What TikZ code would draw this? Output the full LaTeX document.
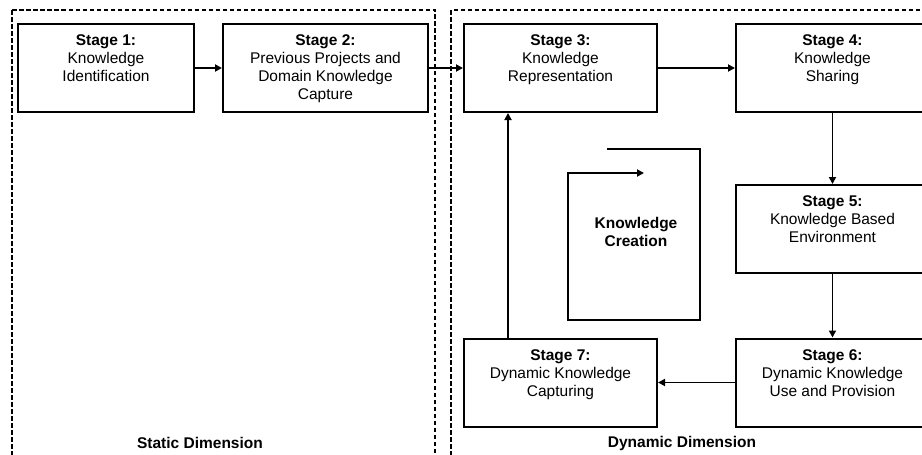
\documentclass[tikz,border=0pt]{standalone}
\usepackage{fontspec}
\setmainfont{Liberation Sans}
\usetikzlibrary{arrows.meta}

\tikzset{
  stagebox/.style={draw, line width=2pt, inner sep=0pt, minimum height=88pt},
  stagetext/.style={anchor=north, align=center, inner sep=0pt, yshift=-11.5pt},
  flow/.style={line width=1.8pt, -{Triangle[length=7pt,width=7pt]}},
  dimbox/.style={line width=1.4pt, dash pattern=on 4.5pt off 2.5pt},
}

\begin{document}
\begin{tikzpicture}[x=1pt, y=-1pt, font=\fontsize{15.5}{18}\selectfont]
        \clip (0,0) rectangle (922,455);

        % the two dimensions
        \draw[dimbox] (12,10) rectangle (435,475);
        \draw[dimbox] (451,10) rectangle (945,475);

        \node (static) at (200,443) {\textbf{Static Dimension}};
        \node (dynamic) at (682,443) {\textbf{Dynamic Dimension}};

        % stages
        \node[stagebox, minimum width=176pt] (s1) at (106,68) {};
        \node[stagebox, minimum width=205pt] (s2) at (325.5,68) {};
        \node[stagebox, minimum width=193pt] (s3) at (560.5,68) {};
        \node[stagebox, minimum width=193pt] (s4) at (832.5,68) {};
        \node[stagebox, minimum width=193pt] (s5) at (832.5,229) {};
        \node[stagebox, minimum width=193pt] (s6) at (832.5,382.5) {};
        \node[stagebox, minimum width=193pt] (s7) at (560.5,382.5) {};

        \node[stagetext] (t1) at (s1.north) {\textbf{Stage 1:}\\Knowledge\\Identification};
        \node[stagetext] (t2) at (s2.north) {\textbf{Stage 2:}\\Previous Projects and\\Domain Knowledge\\Capture};
        \node[stagetext] (t3) at (s3.north) {\textbf{Stage 3:}\\Knowledge\\Representation};
        \node[stagetext] (t4) at (s4.north) {\textbf{Stage 4:}\\Knowledge\\Sharing};
        \node[stagetext] (t5) at (s5.north) {\textbf{Stage 5:}\\Knowledge Based\\Environment};
        \node[stagetext] (t6) at (s6.north) {\textbf{Stage 6:}\\Dynamic Knowledge\\Use and Provision};
        \node[stagetext] (t7) at (s7.north) {\textbf{Stage 7:}\\Dynamic Knowledge\\Capturing};

        \draw[flow] (s1.east) -- (s2.west);
        \draw[flow] (s2.east) -- (s3.west);
        \draw[flow] (s3.east) -- (s4.west);
        \draw[flow] (s4.south) -- (s5.north);
        \draw[flow] (s5.south) -- (s6.north);
        \draw[flow] (s6.west) -- (s7.east);
        \draw[flow] ([xshift=45pt]s7.north west) -- ([xshift=45pt]s7.north west |- s3.south);

        % knowledge creation loop
        \coordinate (k1) at (607,149);
        \coordinate (k2) at (700,149);
        \coordinate (k3) at (700,320);
        \coordinate (k4) at (568,320);
        \coordinate (k5) at (568,173);
        \coordinate (k6) at (644,173);
        \draw[flow] (k1) -- (k2) -- (k3) -- (k4) -- (k5) -- (k6);

        \node[align=center] (kc) at (636,232) {\textbf{Knowledge}\\\textbf{Creation}};
\end{tikzpicture}
\end{document}
